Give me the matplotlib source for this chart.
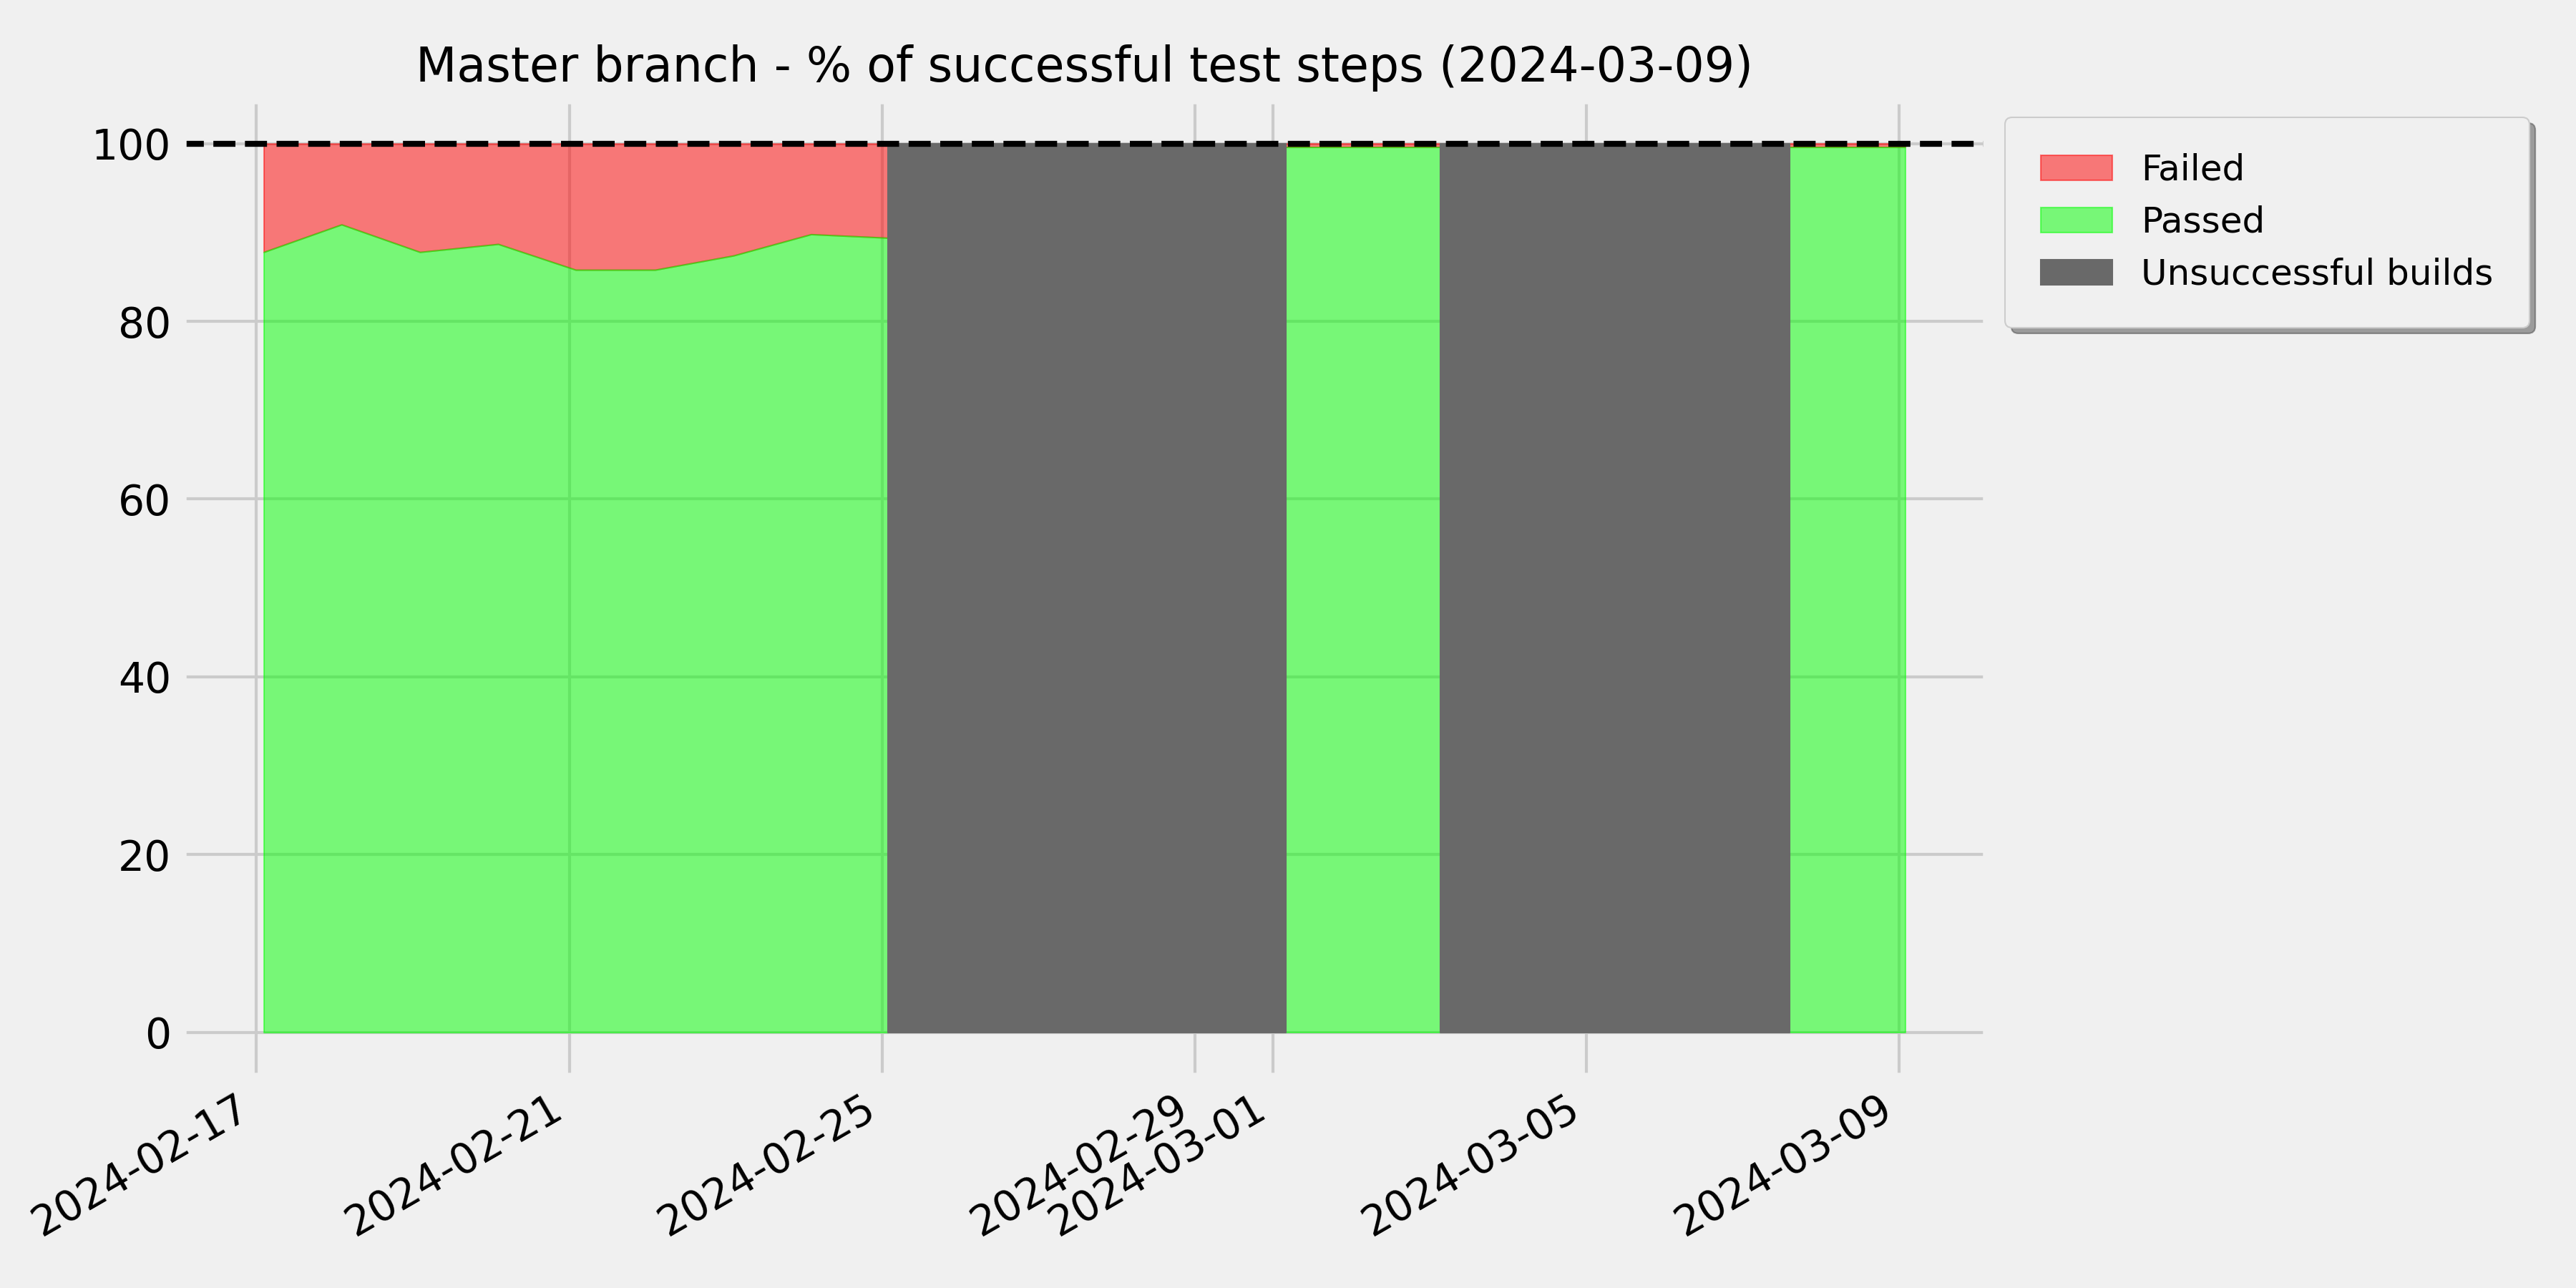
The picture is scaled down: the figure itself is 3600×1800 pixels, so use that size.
import matplotlib
matplotlib.use("Agg")
import matplotlib.pyplot as plt
import matplotlib.dates as mdates
from matplotlib.patches import Patch
import pandas as pd
import numpy as np

# ---- data ----
build_dates = ["2024-02-17 02:14", "2024-02-18 02:07", "2024-02-19 02:10",
               "2024-02-20 02:10", "2024-02-21 01:58", "2024-02-22 02:20",
               "2024-02-23 02:20", "2024-02-24 02:10", "2024-02-25 01:45",
               "2024-03-01 03:50", "2024-03-03 03:20",
               "2024-03-07 14:25", "2024-03-09 01:55"]
passed_pct = [87.8, 90.9, 87.8, 88.7, 85.8, 85.8, 87.4, 89.8, 89.4,
              99.6, 99.6, 99.6, 99.6]
segment_id = [0, 0, 0, 0, 0, 0, 0, 0, 0, 1, 1, 2, 2]
unsuccessful_start = ["2024-02-25 01:45", "2024-03-03 03:20"]
unsuccessful_end = ["2024-03-01 03:50", "2024-03-07 14:25"]
title = "Master branch - % of successful test steps (2024-03-09)"

# ---- plot ----
plt.style.use("fivethirtyeight")
fig, ax = plt.subplots(figsize=(12, 6), dpi=300)

x = pd.to_datetime(build_dates)
passed = np.array(passed_pct)
seg = np.array(segment_id)

for s in np.unique(seg):
    m = seg == s
    ax.fill_between(x[m], passed[m], 100, color="red", alpha=0.5)
    ax.fill_between(x[m], 0, passed[m], color="lime", alpha=0.5)

for a, b in zip(pd.to_datetime(unsuccessful_start), pd.to_datetime(unsuccessful_end)):
    ax.fill_between([a, b], 0, 100, color="dimgray", alpha=1.0)

ax.axhline(100, color="black", linestyle="--", linewidth=2)

ax.xaxis.set_major_locator(mdates.DayLocator(bymonthday=range(1, 32, 4)))
ax.xaxis.set_major_formatter(mdates.DateFormatter("%Y-%m-%d"))
for lbl in ax.get_xticklabels():
    lbl.set_rotation(30)
    lbl.set_ha("right")

ax.set_title(title, fontsize=16)

handles = [Patch(facecolor="red", edgecolor="red", alpha=0.5, label="Failed"),
           Patch(facecolor="lime", edgecolor="lime", alpha=0.5, label="Passed"),
           Patch(facecolor="dimgray", edgecolor="dimgray", label="Unsuccessful builds")]
ax.legend(handles=handles, loc="upper left", bbox_to_anchor=(1, 1),
          fontsize=12, shadow=True, borderpad=1.0)

fig.subplots_adjust(left=0.0705, right=0.7715, top=0.923, bottom=0.164)
fig.savefig("out.png", dpi=300)
